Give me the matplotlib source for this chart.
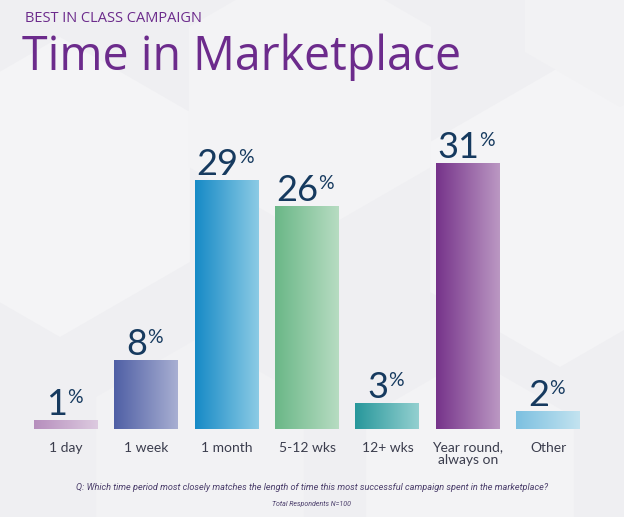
import numpy as np
import matplotlib.pyplot as plt
from matplotlib.colors import LinearSegmentedColormap
from matplotlib.patches import RegularPolygon

# ── Data ──────────────────────────────────────────────────────────────────────
categories = ["1 day", "1 week", "1 month", "5-12 wks", "12+ wks",
              "Year round,\nalways on", "Other"]
values = [1, 8, 29, 26, 3, 31, 2]
# left (dark) -> right (light) gradient colours per bar
dark_colors = ["#b68ebd", "#4f5fa5", "#168ac6", "#6ab787", "#27979b", "#76338a", "#7cc0e0"]
light_colors = ["#ddcbe0", "#a8afd2", "#8ccbe5", "#b7dcc2", "#94d0d0", "#bb98c3", "#c3e3f0"]

title = "Time in Marketplace"
kicker = "BEST IN CLASS CAMPAIGN"
question = ("Q: Which time period most closely matches the length of time "
            "this most successful campaign spent in the marketplace?")
note = "Total Respondents N=100"

PURPLE = "#6c2b8c"
NAVY = "#163a5f"

plt.rcParams["font.family"] = ["Lato", "DejaVu Sans"]

fig = plt.figure(figsize=(6.24, 5.17), dpi=100)
fig.patch.set_facecolor("#efeff2")

# faint hexagon pattern in the background
bg = fig.add_axes([0, 0, 1, 1], zorder=-10)
bg.set_xlim(0, 624)
bg.set_ylim(0, 517)
bg.axis("off")
for cx, cy, r, c in [(60, 330, 150, "#f4f4f6"), (310, 420, 140, "#f3f3f5"),
                     (560, 300, 150, "#f4f4f6"), (200, 60, 120, "#f2f2f4"),
                     (470, 40, 120, "#f3f3f5"), (620, 520, 110, "#f2f2f4")]:
    bg.add_patch(RegularPolygon((cx, cy), 6, radius=r, orientation=0,
                                facecolor=c, edgecolor="none"))

ax = fig.add_axes([0.0414, 0.1702, 0.9013, 0.5803])
ax.set_facecolor("none")
x = np.arange(len(categories))
bars = ax.bar(x, values, width=0.795, color="none", edgecolor="none")
ax.set_xlim(-0.5, len(categories) - 0.5)
ax.set_ylim(0, 35)

grad = np.linspace(0, 1, 256).reshape(1, -1)
for b, c0, c1 in zip(bars, dark_colors, light_colors):
    cmap = LinearSegmentedColormap.from_list("g", [c0, c1])
    ax.imshow(grad, cmap=cmap, aspect="auto", interpolation="bicubic",
              extent=(b.get_x(), b.get_x() + b.get_width(), 0, b.get_height()),
              zorder=2)

# value labels: big number + small superscript %
for xi, v in zip(x, values):
    num = ax.annotate(str(v), xy=(xi, v), xytext=(-7, 4), textcoords="offset points",
                      ha="center", va="baseline", fontsize=26, color=NAVY)
    ax.annotate("%", xy=(1.0, 0.97), xycoords=num, xytext=(0, 0),
                textcoords="offset points", ha="left", va="top",
                fontsize=14, color=NAVY)

ax.set_xticks(x)
ax.set_xticklabels(categories, fontsize=10, color="#3b3d4d", linespacing=1.0)
ax.tick_params(axis="x", length=0, pad=9)
ax.set_yticks([])
for s in ax.spines.values():
    s.set_visible(False)

fig.text(25 / 624, 1 - 22 / 517, kicker, fontsize=10.5, color=PURPLE, va="baseline",
         family=["Open Sans", "DejaVu Sans"])
fig.text(22 / 624, 1 - 70 / 517, title, fontsize=33.5, color=PURPLE, va="baseline",
         family=["Open Sans", "DejaVu Sans"])

fig.text(0.5, 1 - 487 / 517, question, ha="center", va="center", fontsize=6.6,
         style="italic", family=["Roboto", "DejaVu Sans"], color="#4a3d6a")
fig.text(0.5, 1 - 504 / 517, note, ha="center", va="center", fontsize=5,
         style="italic", family=["Roboto", "DejaVu Sans"], color="#4a3d6a")

fig.savefig("out.png", dpi=100, facecolor=fig.get_facecolor())
